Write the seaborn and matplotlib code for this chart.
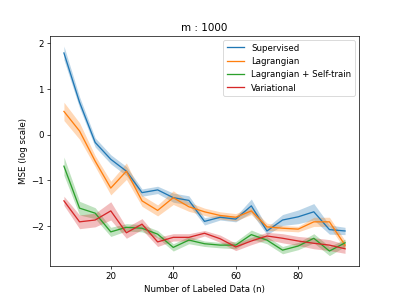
# MSE vs number of labeled data, m = 1000
import numpy as np
import pandas as pd
import seaborn as sns
import matplotlib
matplotlib.use("Agg")
import matplotlib.pyplot as plt

n_labeled = [5, 10, 15, 20, 25, 30, 35, 40, 45, 50, 55, 60, 65, 70, 75, 80, 85, 90, 95]

supervised = [1.79, 0.71, -0.17, -0.54, -0.80, -1.27, -1.21, -1.38, -1.44, -1.90, -1.81,
              -1.85, -1.56, -2.11, -1.87, -1.80, -1.69, -2.08, -2.11]
supervised_err = [0.15, 0.12, 0.1, 0.1, 0.1, 0.08, 0.08, 0.1, 0.1, 0.08, 0.06,
                  0.06, 0.15, 0.08, 0.12, 0.15, 0.18, 0.1, 0.08]

lagrangian = [0.51, 0.08, -0.58, -1.17, -0.80, -1.45, -1.66, -1.38, -1.58, -1.69, -1.77,
              -1.81, -1.67, -2.02, -2.05, -2.07, -1.91, -1.91, -2.42]
lagrangian_err = [0.2, 0.18, 0.12, 0.15, 0.18, 0.12, 0.12, 0.15, 0.1, 0.08, 0.08,
                  0.08, 0.08, 0.08, 0.06, 0.06, 0.1, 0.1, 0.1]

self_train = [-0.69, -1.61, -1.72, -2.13, -2.03, -2.05, -2.18, -2.47, -2.31, -2.39, -2.42,
              -2.42, -2.19, -2.31, -2.53, -2.44, -2.27, -2.55, -2.37]
self_train_err = [0.2, 0.15, 0.12, 0.1, 0.08, 0.08, 0.08, 0.08, 0.08, 0.06, 0.06,
                  0.08, 0.1, 0.08, 0.08, 0.08, 0.1, 0.1, 0.08]

variational = [-1.45, -1.91, -1.87, -1.67, -2.15, -1.96, -2.35, -2.25, -2.25, -2.16, -2.28,
               -2.46, -2.33, -2.22, -2.27, -2.33, -2.38, -2.42, -2.50]
variational_err = [0.1, 0.15, 0.15, 0.2, 0.12, 0.12, 0.1, 0.08, 0.08, 0.06, 0.08,
                   0.08, 0.08, 0.08, 0.1, 0.1, 0.12, 0.12, 0.1]

methods = ["Supervised", "Lagrangian", "Lagrangian + Self-train", "Variational"]
means = [supervised, lagrangian, self_train, variational]
errs = [supervised_err, lagrangian_err, self_train_err, variational_err]

colors = sns.color_palette("tab10")[:4]

df = pd.concat([pd.DataFrame({"n": n_labeled, "mse": m, "method": name})
                for name, m in zip(methods, means)], ignore_index=True)

# drawn as the default 6.4x4.8 figure, scaled down to 399x299
fig, ax = plt.subplots(figsize=(6.4, 4.8), dpi=399 / 6.4)
sns.lineplot(data=df, x="n", y="mse", hue="method", palette=colors,
             hue_order=methods, errorbar=None, ax=ax, linewidth=1.5)
for m, e, c in zip(means, errs, colors):
    m = np.array(m)
    e = np.array(e)
    ax.fill_between(n_labeled, m - e, m + e, color=c, alpha=0.3, linewidth=0)

ax.set_title("m : 1000")
ax.set_xlabel("Number of Labeled Data (n)")
ax.set_ylabel("MSE (log scale)")
ax.legend(loc="upper right")
fig.savefig("out.png", dpi=399 / 6.4)
